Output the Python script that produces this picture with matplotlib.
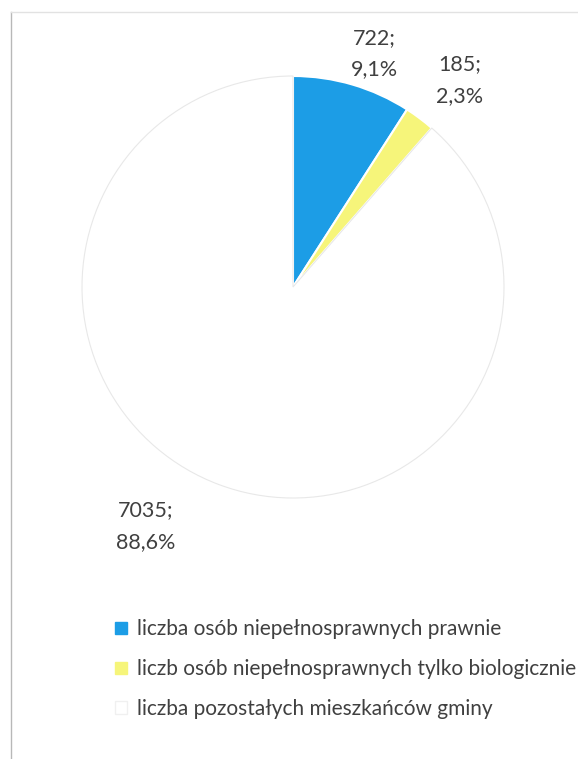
import numpy as np
import matplotlib
matplotlib.use("Agg")
import matplotlib.pyplot as plt
from matplotlib.patches import Rectangle

# data
categories = [
    "liczba osób niepełnosprawnych prawnie",
    "liczb osób niepełnosprawnych tylko biologicznie",
    "liczba pozostałych mieszkańców gminy",
]
counts = [722, 185, 7035]
shares = ["9,1%", "2,3%", "88,6%"]
colors = ["#1c9de6", "#f6f57a", "#ffffff"]

plt.rcParams["font.family"] = ["Lato", "DejaVu Sans"]
text_color = "#404040"

W, H = 578, 759
fig = plt.figure(figsize=(W / 100, H / 100), dpi=100)
fig.patch.set_facecolor("white")

# light frame of the scanned chart (left and top edges)
fig.add_artist(plt.Line2D([11 / W, 11 / W], [0, 1 - 12 / H], transform=fig.transFigure,
                          color="#b8b8b8", lw=1.0))
fig.add_artist(plt.Line2D([11 / W, 1], [1 - 12 / H, 1 - 12 / H], transform=fig.transFigure,
                          color="#e2e2e2", lw=1.0))

# pie axes: centre (293, 287) px, radius 211 px
cx, cy, r = 293, 287, 211
ax = fig.add_axes([(cx - r) / W, (H - cy - r) / H, 2 * r / W, 2 * r / H])
wedges, _ = ax.pie(counts, colors=colors, startangle=90, counterclock=False,
                   radius=1.0, wedgeprops=dict(edgecolor="white", linewidth=1.5))
wedges[2].set_edgecolor("#e8e8e8")
wedges[2].set_linewidth(0.8)
ax.set_xlim(-1, 1)
ax.set_ylim(-1, 1)
ax.set_aspect("equal")
ax.axis("off")

# data labels "value;\nshare"
label_dist = [1.17, 1.26, 1.33]
label_shift = [2.8, 2.0, 11.0]  # degrees clockwise from slice middle
for w, n, s, d, sh in zip(wedges, counts, shares, label_dist, label_shift):
    mid = np.deg2rad((w.theta1 + w.theta2) / 2 - sh)
    ax.text(d * np.cos(mid), d * np.sin(mid), f"{n};\n{s}", ha="center", va="center",
            fontsize=15.5, color=text_color, linespacing=1.7, clip_on=False)

# legend
handles = [Rectangle((0, 0), 1, 1, facecolor=c, edgecolor="#f0f0f0" if c == "#ffffff" else c)
           for c in colors]
fig.legend(handles, categories, loc="upper left", bbox_to_anchor=(105 / W, 1 - 609 / H),
           frameon=False, fontsize=15, labelcolor=text_color, handlelength=0.55,
           handleheight=0.55, handletextpad=0.5, labelspacing=0.95, borderpad=0)

fig.savefig("out.png", dpi=100, facecolor="white")
